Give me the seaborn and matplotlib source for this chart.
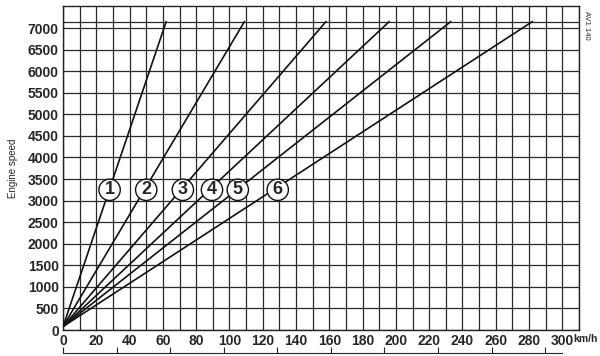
import matplotlib
matplotlib.use("Agg")
import matplotlib.pyplot as plt
import matplotlib.ticker as mticker
import seaborn as sns
import pandas as pd
import numpy as np

# ---- data ----
gears = ["1", "2", "3", "4", "5", "6"]
speed_at_redline_kmh = [62, 109, 158, 196, 233, 282]   # km/h at 7150 rpm
start_rpm = 80
redline_rpm = 7150
label_speed_kmh = [28, 50, 72, 89.5, 105, 129]          # where circled numbers sit
label_rpm = 3250
x_ticks = list(range(0, 301, 20))
y_ticks = list(range(0, 7001, 500))
mph_ticks = list(range(0, 181, 20))

rows = []
for g, v in zip(gears, speed_at_redline_kmh):
    rows.append({"gear": g, "speed": 0.0, "rpm": start_rpm})
    rows.append({"gear": g, "speed": v, "rpm": redline_rpm})
df = pd.DataFrame(rows)

sns.set_theme(style="white")
plt.rcParams["font.family"] = ["Liberation Sans Narrow", "Liberation Sans", "DejaVu Sans"]

fig = plt.figure(figsize=(6.0, 3.56), dpi=100)
ax = fig.add_axes([0.105, 0.073, 0.86, 0.910])

sns.lineplot(data=df, x="speed", y="rpm", hue="gear",
             palette=["#111111"] * len(gears), legend=False,
             linewidth=1.2, ax=ax, zorder=3)

ax.set_xlim(0, 310)
ax.set_ylim(0, 7510)
ax.xaxis.set_major_locator(mticker.FixedLocator(x_ticks))
ax.xaxis.set_minor_locator(mticker.MultipleLocator(10))
ax.yaxis.set_major_locator(mticker.FixedLocator(y_ticks))
ax.grid(True, which="both", axis="x", color="#2a2a2a", linewidth=0.9)
ax.grid(True, which="major", axis="y", color="#2a2a2a", linewidth=0.9)
ax.axhline(redline_rpm, color="#2a2a2a", linewidth=0.9, zorder=1)
ax.set_axisbelow(True)

ax.tick_params(axis="both", which="both", length=0, pad=3)
ax.set_xticklabels([str(t) for t in x_ticks], fontsize=10, fontweight="bold")
ax.set_yticklabels([str(t) for t in y_ticks], fontsize=10, fontweight="bold")
ax.set_xlabel("")
ax.set_ylabel("Engine speed", fontsize=7, labelpad=7)
ax.annotate("km/h", xy=(300, 0), xycoords=ax.get_xaxis_transform(),
            xytext=(11, -4), textcoords="offset pixels",
            ha="left", va="top", fontsize=7.5, fontweight="bold")

for s in ax.spines.values():
    s.set_color("#222222")
    s.set_linewidth(1.0)

for g, xs in zip(gears, label_speed_kmh):
    ax.text(xs, label_rpm, g, ha="center", va="center", fontsize=13,
            fontweight="bold", zorder=5,
            bbox=dict(boxstyle="circle,pad=0.12", fc="white", ec="#111111", lw=1.0))

ax.text(1.015, 0.985, "AV1 140", transform=ax.transAxes, rotation=-90,
        ha="center", va="top", fontsize=5.5)

# mph scale along the bottom
sec = ax.secondary_xaxis(-0.072, functions=(lambda k: k / 1.609344, lambda m: m * 1.609344))
sec.set_xticks(mph_ticks)
sec.set_xticklabels([])
sec.tick_params(direction="in", length=4, width=0.8, colors="#222222")
sec.spines["bottom"].set_bounds(0, 300 / 1.609344)
sec.spines["bottom"].set_linewidth(0.8)

fig.savefig("out.png", dpi=100)
